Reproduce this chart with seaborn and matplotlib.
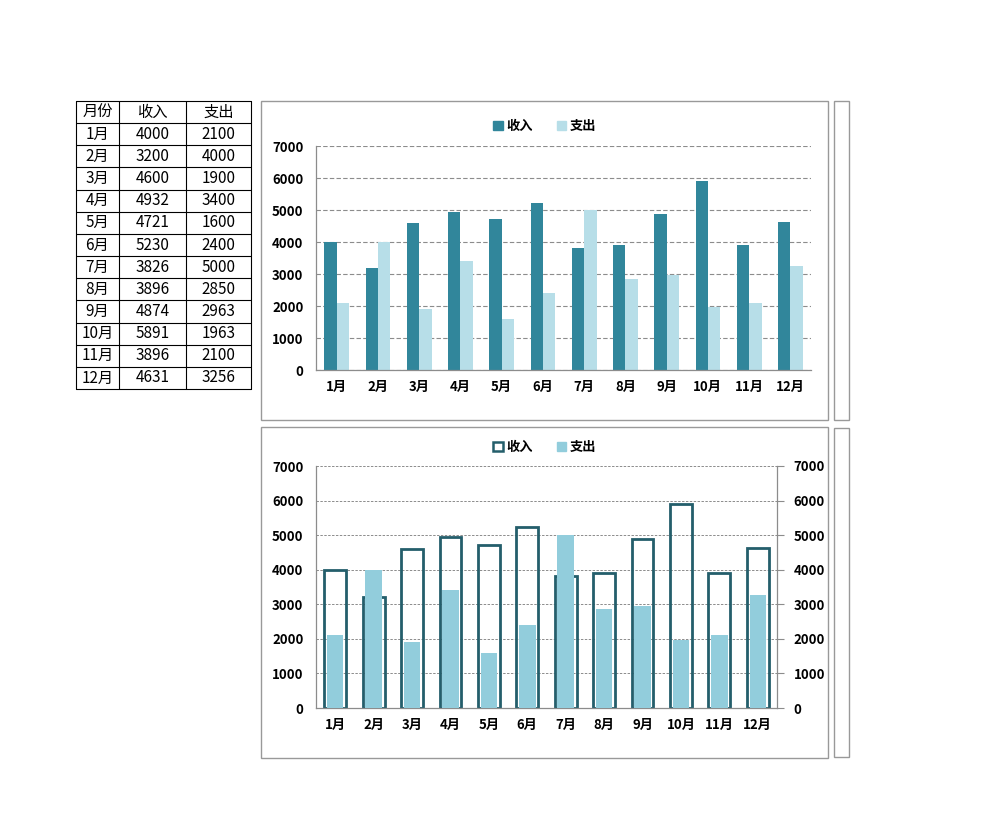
import matplotlib
matplotlib.use("Agg")
import matplotlib.pyplot as plt
from matplotlib.patches import Rectangle, Patch
from matplotlib.ticker import FixedLocator
import seaborn as sns
import pandas as pd

months = ["1月", "2月", "3月", "4月", "5月", "6月", "7月", "8月", "9月", "10月", "11月", "12月"]
income = [4000, 3200, 4600, 4932, 4721, 5230, 3826, 3896, 4874, 5891, 3896, 4631]
expense = [2100, 4000, 1900, 3400, 1600, 2400, 5000, 2850, 2963, 1963, 2100, 3256]
header = ["月份", "收入", "支出"]
yticks = [0, 1000, 2000, 3000, 4000, 5000, 6000, 7000]

sns.set_style("white")
plt.rcParams['font.family'] = ['Noto Sans CJK SC', 'DejaVu Sans']
plt.rcParams['text.color'] = 'black'
plt.rcParams['xtick.color'] = 'black'
plt.rcParams['ytick.color'] = 'black'
plt.rcParams['xtick.labelcolor'] = 'black'
plt.rcParams['ytick.labelcolor'] = 'black'

W, H = 982, 840
fig = plt.figure(figsize=(W / 100, H / 100), dpi=100)

def fx(x):
    return x / W

def fy(y):
    return 1 - y / H

# overlay axes in pixel coordinates
ov = fig.add_axes([0, 0, 1, 1], zorder=-1)
ov.set_xlim(0, W)
ov.set_ylim(H, 0)
ov.axis("off")

# ---- table ----
col_x = [76, 119, 186, 251]
top_y, bot_y = 101, 389
nrows = len(months) + 1
rh = (bot_y - top_y) / nrows
for i in range(nrows + 1):
    ov.plot([col_x[0], col_x[-1]], [top_y + i * rh] * 2, color="black", lw=0.8)
for x in col_x:
    ov.plot([x, x], [top_y, bot_y], color="black", lw=0.8)
rows = [header] + [[m, str(a), str(b)] for m, a, b in zip(months, income, expense)]
for i, row in enumerate(rows):
    for j, val in enumerate(row):
        cx = (col_x[j] + col_x[j + 1]) / 2
        ov.text(cx, top_y + (i + 0.5) * rh, val, ha="center", va="center",
                fontsize=11, color="black")

# ---- frames ----
frame_col = "#999999"
for (x0, y0, x1, y1) in [(261, 101, 828, 420), (834, 101, 849, 420),
                         (261, 427, 828, 758), (834, 428, 849, 757)]:
    ov.add_patch(Rectangle((x0, y0), x1 - x0, y1 - y0, fill=False,
                           edgecolor=frame_col, lw=1.0))

LBL = 9.5

# ---- top chart ----
df = pd.DataFrame({
    "月份": months * 2,
    "金额": income + expense,
    "类型": ["收入"] * len(months) + ["支出"] * len(months),
})
c_inc, c_exp = "#31869B", "#B7DEE8"
ax1 = fig.add_axes([fx(316), fy(370), fx(811) - fx(316), fy(146) - fy(370)])
sns.barplot(data=df, x="月份", y="金额", hue="类型", palette=[c_inc, c_exp],
            width=0.6, saturation=1, errorbar=None, ax=ax1, legend=False,
            linewidth=0)
ax1.set_xlim(-0.5, 11.5)
ax1.set_ylim(0, 7000)
ax1.set_yticks(yticks)
ax1.set_xlabel("")
ax1.set_ylabel("")
ax1.yaxis.grid(True, color="#8c8c8c", linestyle=(0, (4, 2)), lw=0.8)
ax1.set_axisbelow(True)
for s in ["top", "right"]:
    ax1.spines[s].set_visible(False)
for s in ["left", "bottom"]:
    ax1.spines[s].set_color("#8c8c8c")
    ax1.spines[s].set_linewidth(0.9)
ax1.tick_params(axis="x", which="major", length=0, pad=7, labelsize=LBL)
ax1.tick_params(axis="y", length=0, pad=9, labelsize=LBL)
ax1.xaxis.set_minor_locator(FixedLocator([i - 0.5 for i in range(13)]))
ax1.tick_params(axis="x", which="minor", length=4, color="#8c8c8c", direction="out")
for lab in ax1.get_xticklabels() + ax1.get_yticklabels():
    lab.set_fontweight("bold")
fig.legend(handles=[Patch(facecolor=c_inc, edgecolor=c_inc, label="收入"),
                    Patch(facecolor=c_exp, edgecolor=c_exp, label="支出")],
           loc="center", bbox_to_anchor=(fx(545), fy(126)), ncol=2, frameon=False,
           handlelength=0.7, handleheight=0.7, handletextpad=0.3, columnspacing=1.8,
           prop={"weight": "bold", "size": LBL})

# ---- bottom chart ----
c_edge, c_exp2 = "#245E6B", "#92CDDC"
ax2 = fig.add_axes([fx(316), fy(708), fx(777) - fx(316), fy(466) - fy(708)])
sns.barplot(x=months, y=income, ax=ax2, fill=False, color=c_edge, linewidth=2.0,
            width=0.57, saturation=1, errorbar=None)
ax2.set_xlim(-0.5, 11.5)
ax2.set_ylim(0, 7000)
ax2.set_yticks(yticks)
ax2.yaxis.grid(True, color="#8c8c8c", linestyle=(0, (2.5, 1.5)), lw=0.7)
ax2.set_axisbelow(True)
ax3 = ax2.twinx()
sns.barplot(x=months, y=expense, ax=ax3, color=c_exp2, width=0.43, saturation=1,
            errorbar=None, linewidth=0)
ax3.set_ylim(0, 7000)
ax3.set_yticks(yticks)
ax3.set_xlim(-0.5, 11.5)
for a in (ax2, ax3):
    a.set_xlabel("")
    a.set_ylabel("")
    a.spines["top"].set_visible(False)
    for s in ["left", "bottom", "right"]:
        a.spines[s].set_color("#8c8c8c")
        a.spines[s].set_linewidth(0.9)
ax2.spines["right"].set_visible(False)
ax3.spines["left"].set_visible(False)
ax3.spines["bottom"].set_visible(False)
ax2.tick_params(axis="x", which="major", length=0, pad=7, labelsize=LBL)
ax2.tick_params(axis="y", length=0, pad=9, labelsize=LBL)
ax2.xaxis.set_minor_locator(FixedLocator([i - 0.5 for i in range(13)]))
ax2.tick_params(axis="x", which="minor", length=4, color="#8c8c8c", direction="out")
ax3.tick_params(axis="y", length=5, color="#8c8c8c", direction="out", pad=7, labelsize=LBL)
for lab in ax2.get_xticklabels() + ax2.get_yticklabels() + ax3.get_yticklabels():
    lab.set_fontweight("bold")
fig.legend(handles=[Patch(facecolor="white", edgecolor=c_edge, lw=1.8, label="收入"),
                    Patch(facecolor=c_exp2, edgecolor=c_exp2, label="支出")],
           loc="center", bbox_to_anchor=(fx(545), fy(447)), ncol=2, frameon=False,
           handlelength=0.7, handleheight=0.7, handletextpad=0.3, columnspacing=1.8,
           prop={"weight": "bold", "size": LBL})

fig.savefig("out.png", dpi=100)
